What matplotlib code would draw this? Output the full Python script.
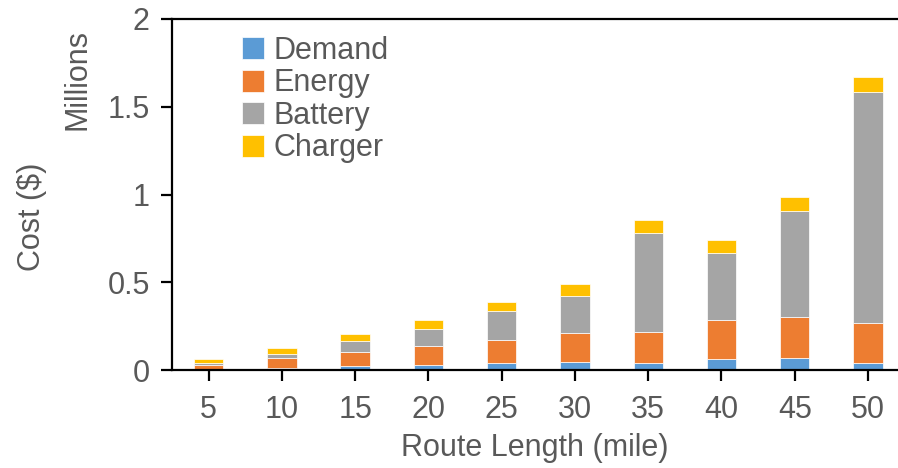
import matplotlib
matplotlib.use("Agg")
import matplotlib.pyplot as plt
import numpy as np

plt.rcParams['font.family'] = ['Liberation Sans', 'DejaVu Sans']

categories = ['5', '10', '15', '20', '25', '30', '35', '40', '45', '50']
demand  = [0.003, 0.011, 0.025, 0.030, 0.038, 0.047, 0.042, 0.063, 0.070, 0.042]
energy  = [0.028, 0.055, 0.078, 0.108, 0.135, 0.163, 0.177, 0.222, 0.234, 0.226]
battery = [0.010, 0.028, 0.063, 0.097, 0.163, 0.213, 0.560, 0.380, 0.602, 1.314]
charger = [0.019, 0.034, 0.038, 0.051, 0.049, 0.065, 0.078, 0.078, 0.080, 0.085]
series_names = ['Demand', 'Energy', 'Battery', 'Charger']
colors = ['#5B9BD5', '#ED7D31', '#A5A5A5', '#FFC000']

W, H = 898, 468
fs = 22
fig = plt.figure(figsize=(W/100, H/100), dpi=100)
ax = fig.add_axes([172/W, 1-370/H, (W-172)/W, (370-19)/H])

x = np.arange(len(categories))
bottom = np.zeros(len(categories))
for vals, name, c in zip([demand, energy, battery, charger], series_names, colors):
    ax.bar(x, vals, width=0.4, bottom=bottom, color=c, label=name,
           edgecolor='white', linewidth=0.5)
    bottom += np.array(vals)

ax.set_xlim(-0.5, 9.41)
ax.set_ylim(0, 2)
ax.set_yticks([0, 0.5, 1, 1.5, 2])
ax.set_yticklabels(['0', '0.5', '1', '1.5', '2'])
ax.set_xticks(x)
ax.set_xticklabels(categories)

for s in ['left', 'bottom', 'top']:
    ax.spines[s].set_linewidth(1.6)
    ax.spines[s].set_color('black')
ax.spines['right'].set_visible(False)
ax.tick_params(axis='both', colors='black', labelcolor='#595959', labelsize=fs,
               width=1.6, length=8, direction='out')
ax.tick_params(axis='y', pad=8)
ax.tick_params(axis='x', pad=10)
ax.tick_params(top=False)

ax.set_xlabel('Route Length (mile)', fontsize=fs, color='#595959', labelpad=6)
fig.text(32/W, 1-217/H, 'Cost ($)', rotation=90, fontsize=fs, color='#595959',
         ha='center', va='center')
fig.text(78/W, 1-80/H, 'Millions', rotation=90, fontsize=fs, color='#595959',
         ha='center', va='center')

leg = ax.legend(loc='upper left', bbox_to_anchor=(242/W, 1-36/H),
                bbox_transform=fig.transFigure, frameon=False, fontsize=fs,
                handlelength=0.72, handleheight=0.72, handletextpad=0.3,
                labelspacing=0.08, borderaxespad=0, borderpad=0)
for t in leg.get_texts():
    t.set_color('#595959')

fig.savefig('out.png', dpi=100)
